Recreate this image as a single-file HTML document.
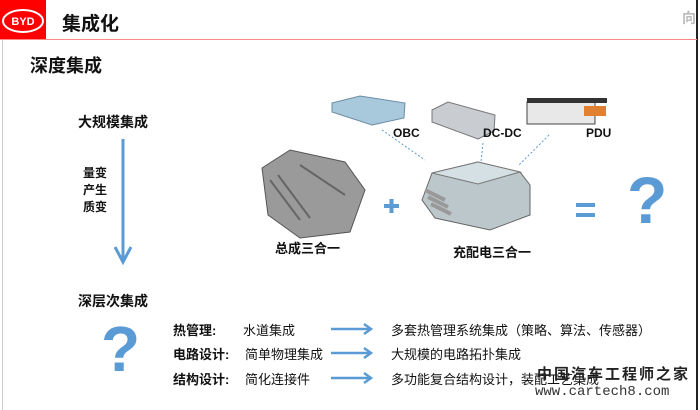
<!DOCTYPE html>
<html><head><meta charset="utf-8"><style>
body{margin:0;width:700px;height:410px;background:#fff;position:relative;overflow:hidden;font-family:"Liberation Sans","Noto Sans CJK SC",sans-serif;}
.a{position:absolute;white-space:nowrap;}
.b{font-weight:bold;color:#111;}
</style></head><body>
<div class="a" style="left:2px;top:40px;width:1px;height:370px;background:#ccc"></div>
<div class="a" style="left:696px;top:0;width:2px;height:410px;background:#222"></div>
<div class="a" style="left:0;top:0;width:46px;height:39px;background:#f00"></div>
<svg class="a" style="left:0;top:0" width="46" height="39"><ellipse cx="23" cy="21" rx="20" ry="11" fill="none" stroke="#fff" stroke-width="2"/><text x="23" y="25" font-size="11" font-weight="bold" fill="#fff" text-anchor="middle" font-family="Liberation Sans">BYD</text></svg>
<div class="a" style="left:0;top:39px;width:697px;height:1px;background:#f88"></div>
<div class="a b" style="left:62px;top:9px;font-size:19px">集成化</div>
<div class="a" style="left:682px;top:8px;font-size:14px;color:#bbb;font-weight:bold">向</div>
<div class="a b" style="left:30px;top:52px;font-size:18px">深度集成</div>

<div class="a b" style="left:78px;top:112px;font-size:14px">大规模集成</div>
<svg class="a" style="left:0;top:0" width="700" height="410">
<line x1="123" y1="139" x2="123" y2="260" stroke="#5b9bd5" stroke-width="3"/>
<polyline points="115,247 123,262 131,247" fill="none" stroke="#5b9bd5" stroke-width="3"/>
<g stroke="#5b9bd5" stroke-width="1" stroke-dasharray="2,2" fill="none">
<line x1="382" y1="130" x2="425" y2="160"/><line x1="483" y1="143" x2="481" y2="162"/><line x1="549" y1="135" x2="519" y2="165"/>
</g>
<polygon points="332,103 360,96 405,103 404,118 372,125 332,112" fill="#a8c8dc" stroke="#6b8ea5"/>
<polygon points="432,110 448,102 495,115 494,131 478,139 432,122" fill="#c9ccd0" stroke="#777"/>
<rect x="527" y="102" width="68" height="22" fill="#e8e8e8" stroke="#444"/><rect x="527" y="98" width="80" height="5" fill="#333"/><rect x="584" y="106" width="22" height="10" fill="#e08030"/>
<polygon points="262,168 290,150 345,162 365,190 350,232 300,238 268,215" fill="#9a9a9a" stroke="#555"/>
<g stroke="#666" stroke-width="2"><line x1="270" y1="180" x2="300" y2="220"/><line x1="278" y1="175" x2="310" y2="218"/><line x1="300" y1="165" x2="345" y2="195"/></g>
<polygon points="432,173 478,162 520,172 530,185 530,215 490,230 435,218 422,200" fill="#bcc7cc" stroke="#666"/>
<polygon points="432,173 478,162 520,172 478,184" fill="#d5e0e5" stroke="#777"/>
<g stroke="#999" stroke-width="4"><line x1="425" y1="190" x2="445" y2="200"/><line x1="428" y1="197" x2="448" y2="207"/><line x1="431" y1="204" x2="451" y2="214"/></g>
<line x1="384" y1="206" x2="399" y2="206" stroke="#5b9bd5" stroke-width="4"/><line x1="391.5" y1="199" x2="391.5" y2="213" stroke="#5b9bd5" stroke-width="4"/>
<line x1="576" y1="205" x2="595" y2="205" stroke="#5b9bd5" stroke-width="4"/><line x1="576" y1="215" x2="595" y2="215" stroke="#5b9bd5" stroke-width="4"/>
<g stroke="#5b9bd5" stroke-width="2.5" fill="none">
<line x1="331" y1="329" x2="371" y2="329"/><polyline points="364,324 371,329 364,334"/>
<line x1="331" y1="353" x2="371" y2="353"/><polyline points="364,348 371,353 364,358"/>
<line x1="331" y1="378" x2="371" y2="378"/><polyline points="364,373 371,378 364,383"/>
</g>
</svg>
<div class="a b" style="left:83px;top:165px;font-size:12px;line-height:17px">量变<br>产生<br>质变</div>
<div class="a b" style="left:78px;top:291px;font-size:14px">深层次集成</div>
<div class="a" style="left:101px;top:312px;font-size:64px;font-weight:bold;color:#5b9bd5">?</div>
<div class="a" style="left:627px;top:162px;font-size:66px;font-weight:bold;color:#5b9bd5">?</div>
<div class="a b" style="left:393px;top:126px;font-size:12px">OBC</div>
<div class="a b" style="left:483px;top:126px;font-size:12px">DC-DC</div>
<div class="a b" style="left:586px;top:126px;font-size:12px">PDU</div>
<div class="a b" style="left:275px;top:238px;font-size:13px">总成三合一</div>
<div class="a b" style="left:453px;top:242px;font-size:13px">充配电三合一</div>

<div class="a b" style="left:173px;top:320px;font-size:13px">热管理:</div>
<div class="a b" style="left:173px;top:344px;font-size:13px">电路设计:</div>
<div class="a b" style="left:173px;top:369px;font-size:13px">结构设计:</div>
<div class="a" style="left:243px;top:320px;font-size:13px;color:#111">水道集成</div>
<div class="a" style="left:245px;top:344px;font-size:13px;color:#111">简单物理集成</div>
<div class="a" style="left:245px;top:369px;font-size:13px;color:#111">简化连接件</div>
<div class="a" style="left:391px;top:320px;font-size:13px;color:#111">多套热管理系统集成（策略、算法、传感器）</div>
<div class="a" style="left:391px;top:344px;font-size:13px;color:#111">大规模的电路拓扑集成</div>
<div class="a" style="left:391px;top:369px;font-size:13px;color:#111">多功能复合结构设计，装配工艺集成</div>
<div class="a" style="left:537px;top:363px;font-size:15px;font-weight:bold;color:#222;letter-spacing:2px">中国汽车工程师之家</div>
<div class="a" style="left:535px;top:384px;font-size:14px;color:#333;font-family:'Liberation Mono',monospace">www.cartech8.com</div>
</body></html>
